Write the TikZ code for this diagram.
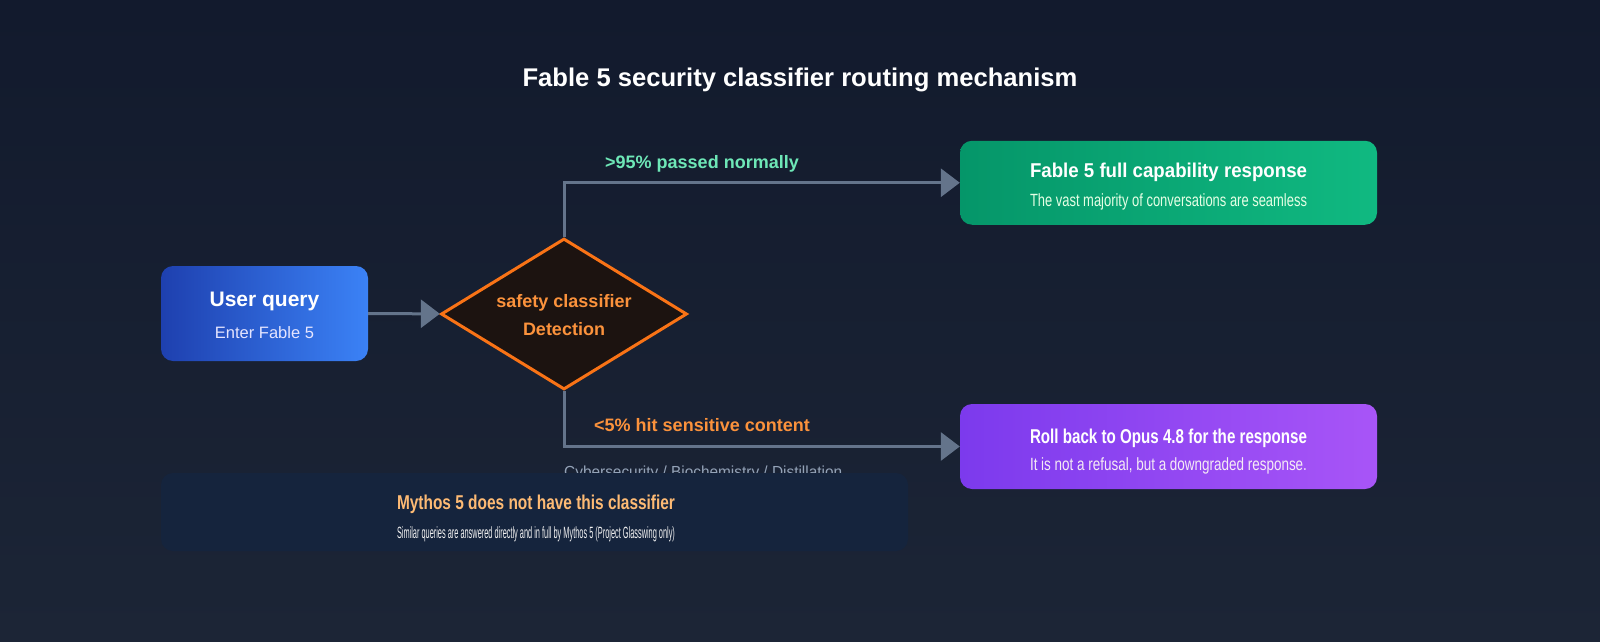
\documentclass[tikz,border=0pt]{standalone}
\usepackage{fontspec}
\setmainfont{Liberation Sans}
\usepackage{graphicx}
\usetikzlibrary{arrows.meta, positioning, shapes.geometric}
\definecolor{bgTop}{HTML}{121A2D}
\definecolor{bgBot}{HTML}{1C2536}
\definecolor{queryL}{HTML}{1E40AF}
\definecolor{queryR}{HTML}{3B82F6}
\definecolor{passL}{HTML}{059669}
\definecolor{passR}{HTML}{10B981}
\definecolor{fallL}{HTML}{7C3AED}
\definecolor{fallR}{HTML}{A855F7}
\definecolor{diaFill}{HTML}{1C1310}
\definecolor{diaLine}{HTML}{F97316}
\definecolor{orangeTxt}{HTML}{FB923C}
\definecolor{mintTxt}{HTML}{6EE7B7}
\definecolor{noteFill}{HTML}{15243D}
\definecolor{noteTxt}{HTML}{FDBA74}
\definecolor{flowLine}{HTML}{64748B}
\definecolor{mutedTxt}{HTML}{94A3B8}
\newcommand{\fitw}[2]{\resizebox{#1}{\height}{#2}}
\newcommand{\fsz}[1]{\fontsize{#1}{#1}\selectfont}

\begin{document}
\begin{tikzpicture}[x=1pt,y=-1pt,
  card/.style={rounded corners=12pt, inner sep=0pt},
  txt/.style={anchor=base, inner sep=0pt, text=white},
  flow/.style={draw=flowLine, line width=3pt,
               -{Triangle[length=19pt,width=28pt]}}]
  \useasboundingbox (0,0) rectangle (1600,642);
  \shade[top color=bgTop, bottom color=bgBot] (0,0) rectangle (1600,642);
  \node[txt, font=\fsz{25.6}\bfseries] (title) at (800,86.7)
    {Fable 5 security classifier routing mechanism};

  % Boxes
  \node[card, left color=queryL, right color=queryR,
        minimum width=207pt, minimum height=95pt] (query) at (264.5,313.5) {};
  \node[diamond, draw=diaLine, line width=3pt, fill=diaFill, inner sep=0pt,
        minimum width=246pt, minimum height=151pt] (classifier) at (564,314) {};
  \node[card, left color=passL, right color=passR,
        minimum width=417pt, minimum height=84pt] (full) at (1168.5,182.75) {};
  \node[card, left color=fallL, right color=fallR,
        minimum width=417pt, minimum height=85pt] (fallback) at (1168.5,446.5) {};

  % Connectors
  \draw[flow] (query) -- (classifier);
  \draw[flow] (classifier.north) |- (full.west);
  \draw[flow] (classifier.south) |- (fallback.west);

  % Box texts
  \node[txt, font=\fsz{21}\bfseries] (queryHead) at (264.5,306.7) {User query};
  \node[txt, font=\fsz{16.5}, text=blue!10] (querySub) at (264.5,338.3) {Enter Fable 5};
  \node[txt, font=\fsz{18}\bfseries, text=orangeTxt] (classHead) at (564,307.5) {safety classifier};
  \node[txt, font=\fsz{18}\bfseries, text=orangeTxt] (classSub) at (564,335) {Detection};
  \node[txt, font=\fsz{20}\bfseries] (fullHead) at (1168.5,177.7)
    {\fitw{277pt}{Fable 5 full capability response}};
  \node[txt, font=\fsz{17.7}, text=green!10] (fullSub) at (1168.5,206.7)
    {\fitw{277pt}{The vast majority of conversations are seamless}};
  \node[txt, font=\fsz{20}\bfseries] (fallHead) at (1168.5,443)
    {\fitw{277pt}{Roll back to Opus 4.8 for the response}};
  \node[txt, font=\fsz{17.7}, text=violet!8] (fallSub) at (1168.5,470.5)
    {\fitw{277pt}{It is not a refusal, but a downgraded response.}};

  % Branch labels
  \node[txt, font=\fsz{18}\bfseries, text=mintTxt] (passLabel) at (702,168) {>95\% passed normally};
  \node[txt, font=\fsz{18}\bfseries, text=orangeTxt] (hitLabel) at (702,431.7) {<5\% hit sensitive content};
  \node[txt, anchor=base west, font=\fsz{16}, text=mutedTxt] (hitTopics) at (564,477.5)
    {\fitw{278pt}{Cybersecurity / Biochemistry / Distillation}};

  % Note
  \node[card, fill=noteFill, minimum width=747pt, minimum height=78pt] (note) at (534.5,512) {};
  \node[txt, font=\fsz{20}\bfseries, text=noteTxt] (noteHead) at (536,509.3)
    {\fitw{278pt}{Mythos 5 does not have this classifier}};
  \node[txt, font=\fsz{16.3}, text=white!90!gray] (noteSub) at (536,538.3)
    {\fitw{278pt}{Similar queries are answered directly and in full by Mythos 5 (Project Glasswing only)}};
\end{tikzpicture}
\end{document}
